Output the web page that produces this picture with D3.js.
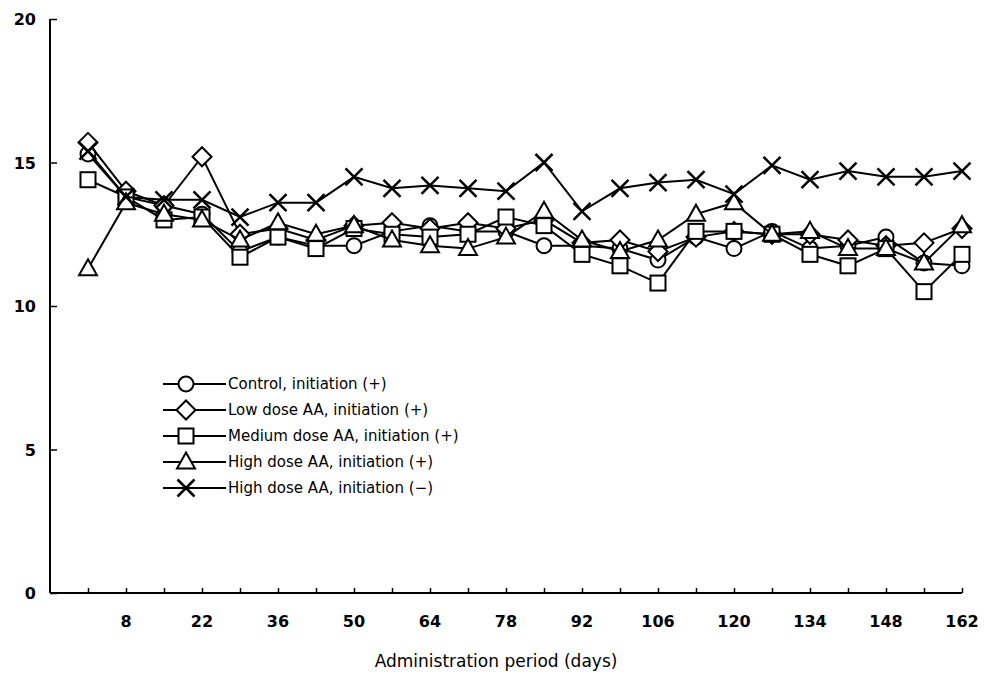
<!DOCTYPE html>
<html>
<head>
<meta charset="utf-8">
<script src="https://cdn.jsdelivr.net/npm/d3@7"></script>
<style>
  html, body { margin: 0; padding: 0; background: #fff; }
  svg { display: block; }
  text { font-family: "DejaVu Sans", "Noto Sans", sans-serif; fill: #000; }
</style>
</head>
<body>
<svg id="chart" width="984" height="673"></svg>
<script>
// ---- data ----
const days = [1, 8, 15, 22, 29, 36, 43, 50, 57, 64, 71, 78, 85, 92, 99, 106, 113, 120, 127, 134, 141, 148, 155, 162];
const xTickLabels = [8, 22, 36, 50, 64, 78, 92, 106, 120, 134, 148, 162];
const yTickLabels = [0, 5, 10, 15, 20];
const seriesNames = [
  "Control, initiation (+)",
  "Low dose AA, initiation (+)",
  "Medium dose AA, initiation (+)",
  "High dose AA, initiation (+)",
  "High dose AA, initiation (\u2212)"
];
const control   = [15.3, 13.8, 13.5, 13.2, 11.9, 12.4, 12.1, 12.1, 12.6, 12.8, 12.6, 12.6, 12.1, 12.1, 12.0, 11.6, 12.4, 12.0, 12.6, 12.0, 12.1, 12.4, 11.5, 11.4];
const lowDose   = [15.7, 14.0, 13.5, 15.2, 12.5, 12.7, 12.3, 12.8, 12.9, 12.7, 12.9, 12.7, 13.0, 12.2, 12.3, 11.9, 12.4, 12.6, 12.5, 12.5, 12.3, 12.1, 12.2, 12.7];
const mediumDose= [14.4, 13.8, 13.0, 13.1, 11.7, 12.4, 12.0, 12.7, 12.5, 12.4, 12.5, 13.1, 12.8, 11.8, 11.4, 10.8, 12.6, 12.6, 12.5, 11.8, 11.4, 12.0, 10.5, 11.8];
const highDosePos = [11.3, 13.6, 13.2, 13.0, 12.3, 12.9, 12.5, 12.8, 12.3, 12.1, 12.0, 12.4, 13.3, 12.3, 11.9, 12.3, 13.2, 13.6, 12.5, 12.6, 12.0, 12.0, 11.5, 12.8];
const highDoseNeg = [15.4, 13.8, 13.7, 13.7, 13.1, 13.6, 13.6, 14.5, 14.1, 14.2, 14.1, 14.0, 15.0, 13.3, 14.1, 14.3, 14.4, 13.9, 14.9, 14.4, 14.7, 14.5, 14.5, 14.7];
const seriesValues = [control, lowDose, mediumDose, highDosePos, highDoseNeg];
const markerTypes = ["circle", "diamond", "square", "triangle", "cross"];
const xTitle = "Administration period (days)";

// ---- layout ----
const svg = d3.select("#chart");
const x = d3.scaleLinear().domain([-6, 162]).range([50, 962]);
const y = d3.scaleLinear().domain([0, 20]).range([593, 19]);

// axes
const xAxis = d3.axisBottom(x).tickValues(days).tickSize(-5).tickFormat("");
const gx = svg.append("g").attr("transform", `translate(0,${y(0)})`).call(xAxis);
gx.select(".domain").attr("d", `M${x(-6)},0H${x(162)}`).attr("stroke-width", 2);
gx.selectAll(".tick line").attr("stroke-width", 1.5);

svg.append("g").selectAll("text").data(xTickLabels).join("text")
  .attr("x", d => x(d)).attr("y", y(0) + 34)
  .attr("text-anchor", "middle")
  .attr("font-size", 16).attr("font-weight", "bold")
  .text(d => d);

const yAxis = d3.axisLeft(y).tickValues(yTickLabels).tickSize(-7).tickFormat("");
const gy = svg.append("g").attr("transform", `translate(${x(-6)},0)`).call(yAxis);
gy.select(".domain").attr("d", `M0,${y(20)}V${y(0)}`).attr("stroke-width", 2);
gy.selectAll(".tick line").attr("stroke-width", 1.5);

svg.append("g").selectAll("text").data(yTickLabels).join("text")
  .attr("x", 36).attr("y", d => y(d) + 6)
  .attr("text-anchor", "end")
  .attr("font-size", 16).attr("font-weight", "bold")
  .text(d => d);

svg.append("text")
  .attr("x", 496).attr("y", 667)
  .attr("text-anchor", "middle").attr("font-size", 17)
  .text(xTitle);

// markers
function drawMarker(g, type, cx, cy) {
  const common = s => s.attr("fill", "#fff").attr("stroke", "#000").attr("stroke-width", 2);
  if (type === "circle") {
    common(g.append("circle").attr("cx", cx).attr("cy", cy).attr("r", 7.5));
  } else if (type === "square") {
    common(g.append("rect").attr("x", cx - 7.5).attr("y", cy - 7.5).attr("width", 15).attr("height", 15));
  } else if (type === "diamond") {
    common(g.append("path").attr("d", `M${cx},${cy - 9.5}L${cx + 9.5},${cy}L${cx},${cy + 9.5}L${cx - 9.5},${cy}Z`));
  } else if (type === "triangle") {
    common(g.append("path").attr("d", `M${cx},${cy - 9.5}L${cx + 9},${cy + 6.5}L${cx - 9},${cy + 6.5}Z`));
  } else if (type === "cross") {
    g.append("path").attr("d", `M${cx - 8.5},${cy - 8.5}L${cx + 8.5},${cy + 8.5}M${cx + 8.5},${cy - 8.5}L${cx - 8.5},${cy + 8.5}`)
      .attr("stroke", "#000").attr("stroke-width", 2.5).attr("fill", "none");
  }
}

const line = d3.line().x((d, i) => x(days[i])).y(d => y(d));
seriesValues.forEach((vals, si) => {
  const g = svg.append("g");
  g.append("path").attr("d", line(vals)).attr("fill", "none").attr("stroke", "#000").attr("stroke-width", 2);
  vals.forEach((v, i) => drawMarker(g, markerTypes[si], x(days[i]), y(v)));
});

// legend
const legend = svg.append("g");
seriesNames.forEach((name, i) => {
  const ly = 384 + i * 26;
  legend.append("line").attr("x1", 163).attr("x2", 226).attr("y1", ly).attr("y2", ly)
    .attr("stroke", "#000").attr("stroke-width", 2);
  drawMarker(legend, markerTypes[i], 186, ly);
  legend.append("text").attr("x", 228).attr("y", ly + 5).attr("font-size", 15).text(name);
});
</script>
</body>
</html>
